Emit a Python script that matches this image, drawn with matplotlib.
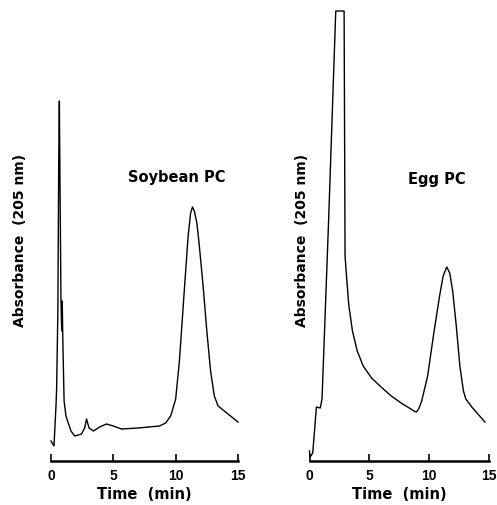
import matplotlib
matplotlib.use("Agg")
import matplotlib.pyplot as plt

# soybean PC chromatogram (time in min, absorbance in arbitrary units)
soy_t = [0.0, 0.24, 0.40, 0.45, 0.55, 0.62, 0.67, 0.72, 0.80, 0.86, 0.90, 0.95,
         1.05, 1.20, 1.36, 1.60, 1.90, 2.45, 2.70, 2.85, 3.05, 3.40, 3.90, 4.45,
         5.00, 5.65, 7.00, 8.70, 9.20, 9.60, 10.00, 10.30, 10.70, 11.00, 11.20,
         11.35, 11.50, 11.70, 11.90, 12.20, 12.50, 12.80, 13.10, 13.40, 14.20,
         15.0]
soy_a = [0.20, 0.15, 0.55, 0.72, 1.50, 3.00, 3.60, 2.80, 1.60, 1.30, 1.60, 1.20,
         0.60, 0.45, 0.39, 0.30, 0.25, 0.27, 0.33, 0.42, 0.33, 0.30, 0.34, 0.37,
         0.35, 0.32, 0.33, 0.35, 0.38, 0.45, 0.62, 1.00, 1.72, 2.25, 2.48,
         2.54, 2.50, 2.38, 2.15, 1.75, 1.30, 0.90, 0.65, 0.55, 0.47,
         0.39]

# egg PC chromatogram, the big solvent peak goes off scale
egg_t = [0.0, 0.05, 0.27, 0.58, 0.90, 1.05, 1.60, 2.20, 2.90, 2.98, 3.10, 3.30,
         3.60, 4.00, 4.50, 5.20, 6.00, 6.85, 7.80, 8.50, 8.75, 8.95, 9.15, 9.40,
         9.90, 10.43, 10.90, 11.20, 11.50, 11.75, 12.00, 12.30, 12.60, 12.90,
         13.10, 13.60, 14.70]
egg_a = [0.10, 0.04, 0.08, 0.54, 0.53, 0.62, 2.40, 4.50, 4.50, 2.05, 1.85, 1.55,
         1.30, 1.10, 0.95, 0.83, 0.74, 0.65, 0.57, 0.52, 0.50, 0.49, 0.52, 0.60,
         0.85, 1.29, 1.65, 1.85, 1.94, 1.88, 1.70, 1.35, 0.95, 0.70,
         0.62, 0.54, 0.39]

panels = [
    ("Soybean PC", soy_t, soy_a, [51, 238], 3.72, (177, 178), 20),
    ("Egg PC", egg_t, egg_a, [309.5, 488.5], 4.52, (437, 180), 302),
]

W, H = 497, 506
fig = plt.figure(figsize=(W / 100, H / 100), dpi=100)
font = dict(family="DejaVu Sans", weight="bold")
tfont = dict(family="Liberation Sans", weight="bold")

for name, t, a, xpix, ytop, tpos, ylx in panels:
    ax = fig.add_axes([xpix[0] / W, (H - 462) / H, (xpix[1] - xpix[0]) / W,
                       ytop * 100 / H])
    ax.plot(t, a, color="black", lw=1.0, clip_on=False)
    ax.set_xlim(0, 15)
    ax.set_ylim(0, ytop)
    for s in ["left", "right", "top"]:
        ax.spines[s].set_visible(False)
    ax.spines["bottom"].set_linewidth(1.8)
    ax.set_yticks([])
    ax.set_xticks([0, 5, 10, 15])
    ax.set_xticklabels(["0", "5", "10", "15"], fontsize=10, **tfont)
    ax.tick_params(axis="x", direction="in", length=5, width=1.2, pad=5)
    ax.set_xlabel("Time  (min)", fontsize=10.5, labelpad=3, **font)
    fig.text(tpos[0] / W, 1 - tpos[1] / H, name, ha="center", va="center",
             fontsize=10.5, **font)
    fig.text(ylx / W, 1 - 240 / H, "Absorbance  (205 nm)", rotation=90,
             ha="center", va="center", fontsize=10, **font)

fig.savefig("out.png", dpi=100)
